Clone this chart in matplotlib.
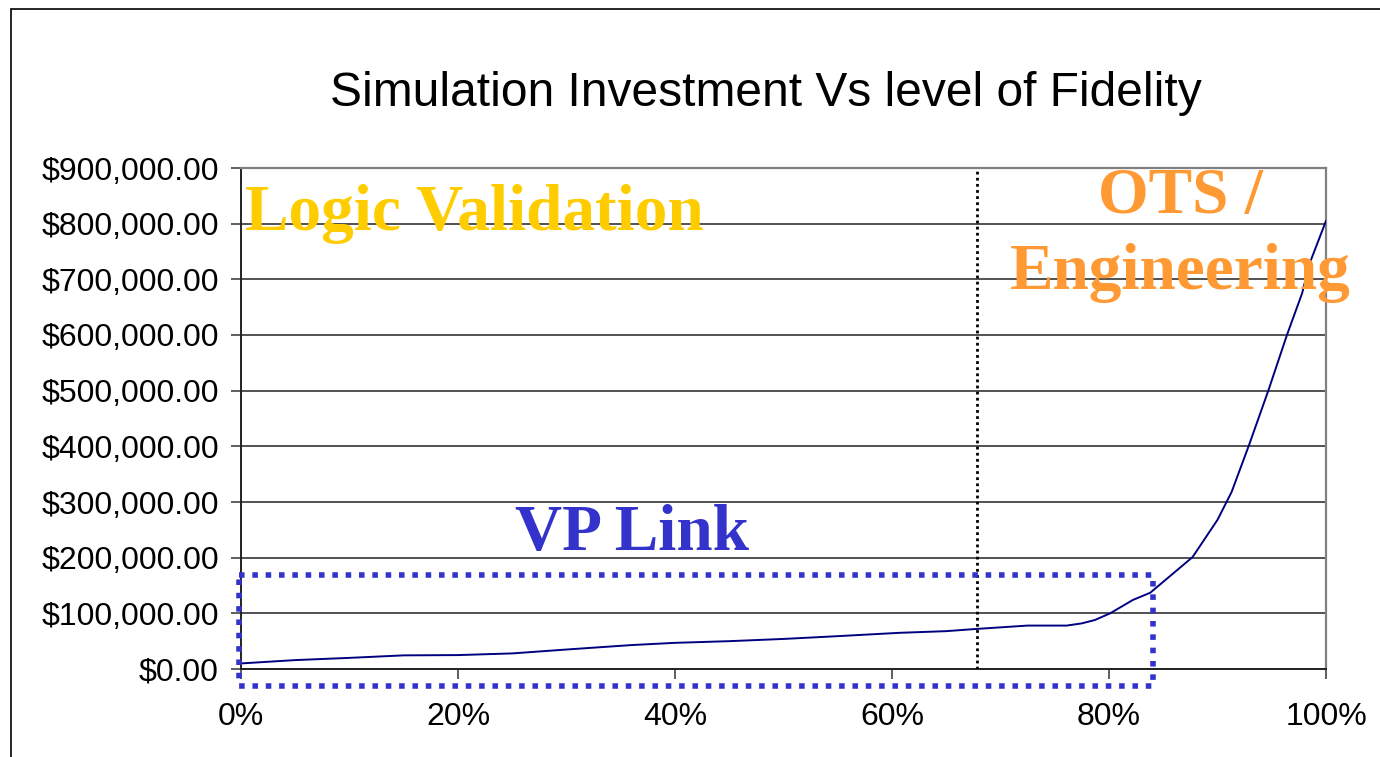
import numpy as np
import matplotlib
matplotlib.use('Agg')
import matplotlib.pyplot as plt
from matplotlib.patches import Rectangle
from matplotlib.ticker import FuncFormatter, MultipleLocator

# Data
fidelity = [0, 5, 10, 15, 20, 25, 30, 36, 40, 45, 50, 55, 60.7, 65, 67.8, 72.5, 76.1,
            77.5, 78.7, 80.1, 82.2, 83.8, 86.3, 87.7, 90.0, 91.3, 92.9, 94.7, 96.4,
            97.8, 98.5, 100]
investment = [10000, 16000, 20000, 24500, 25000, 28000, 35000, 43000, 47000, 50000,
              54000, 59000, 65000, 68000, 72000, 78000, 78000, 82000, 88000, 100000,
              124000, 137000, 178000, 201000, 268000, 318000, 402000, 501000, 600000,
              675000, 729000, 805000]

fidelity_split = 67.8          # dotted divider
vp_box = (-0.2, 84.05, -30500, 169000)   # x0, x1, y0, y1

title = 'Simulation Investment Vs level of Fidelity'

fig = plt.figure(figsize=(13.8, 7.57), dpi=100)
ax = fig.add_axes([241/1380, 1 - 669/757, (1326-241)/1380, (669-168)/757])

# outer frame (only top/left edges visible in the reference)
fig.patches.append(Rectangle((11/1380, -0.1), 1.2, 1 - 9/757 + 0.1,
                             transform=fig.transFigure, fill=False,
                             edgecolor='black', linewidth=1.2))

ax.plot(fidelity, investment, color='#000080', linewidth=1.4, zorder=4)

ax.set_xlim(0, 100)
ax.set_ylim(0, 900000)
ax.xaxis.set_major_locator(MultipleLocator(20))
ax.yaxis.set_major_locator(MultipleLocator(100000))
ax.xaxis.set_major_formatter(FuncFormatter(lambda v, p: f'{v:.0f}%'))
ax.yaxis.set_major_formatter(FuncFormatter(lambda v, p: f'${v:,.2f}'))

ax.grid(axis='y', color='#222222', linewidth=1.1)
ax.set_axisbelow(True)
for s in ['top', 'right']:
    ax.spines[s].set_color('#808080')
    ax.spines[s].set_linewidth(1.6)
for s in ['left', 'bottom']:
    ax.spines[s].set_color('#222222')
    ax.spines[s].set_linewidth(1.4)

ax.tick_params(axis='both', direction='out', length=7, width=1.1, color='#333333',
               labelsize=23, labelcolor='black')
ax.tick_params(axis='y', pad=9)
ax.tick_params(axis='x', pad=17)
for lab in ax.get_xticklabels() + ax.get_yticklabels():
    lab.set_fontfamily('Liberation Sans')

# vertical divider
ax.axvline(fidelity_split, color='black', linestyle=(0, (1, 1.2)), linewidth=2, zorder=3)

# VP Link dotted box
x0, x1, y0, y1 = vp_box
ax.plot([x0, x1, x1, x0, x0], [y1, y1, y0, y0, y1], color='#3333CC', linewidth=4,
        linestyle=(0, (1, 1.4)), dash_capstyle='butt', clip_on=False, zorder=5)

fig.text(766/1380, 1 - 93/757, title, ha='center', va='center', fontsize=34.5,
         family='Liberation Sans')

serif = dict(family='Liberation Serif', weight='bold', fontsize=47)
fig.text(245/1380, 1 - 230/757, 'Logic Validation', color='#FFCC00', ha='left',
         va='baseline', **serif)
fig.text(1180/1380, 1 - 213/757, 'OTS /', color='#FF9933', ha='center',
         va='baseline', **serif)
fig.text(1180/1380, 1 - 289/757, 'Engineering', color='#FF9933', ha='center',
         va='baseline', **serif)
fig.text(632/1380, 1 - 550/757, 'VP Link', color='#3333CC', ha='center',
         va='baseline', **serif)

fig.savefig('out.png', dpi=100, facecolor='white')
